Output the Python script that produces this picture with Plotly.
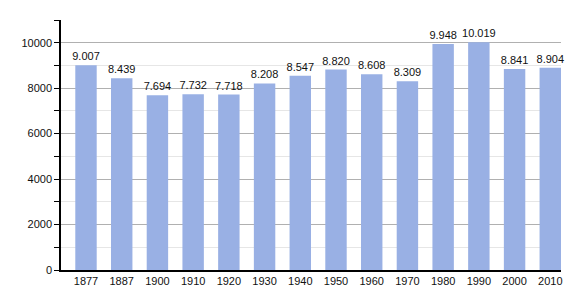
import plotly.graph_objects as go

years = ["1877", "1887", "1900", "1910", "1920", "1930", "1940", "1950", "1960", "1970", "1980", "1990", "2000", "2010"]
population = [9007, 8439, 7694, 7732, 7718, 8208, 8547, 8820, 8608, 8309, 9948, 10019, 8841, 8904]

fig = go.Figure(go.Bar(
    x=list(range(len(years))),
    y=population,
    width=0.6,
    marker=dict(color="#99b0e4", line=dict(width=0)),
    texttemplate="%{y:,d}",
    textposition="outside",
    constraintext="none",
    textfont=dict(size=11, color="#111"),
    cliponaxis=False,
))

fig.update_layout(
    width=580, height=300,
    margin=dict(l=61, r=19, t=20, b=30),
    paper_bgcolor="white", plot_bgcolor="white",
    separators=",.",
    font=dict(family="Liberation Sans, Arial, sans-serif", size=11, color="#111"),
    showlegend=False,
    bargap=0.4,
)
fig.update_xaxes(
    range=[-0.7, 13.3],
    tickmode="array", tickvals=list(range(len(years))), ticktext=years,
    showline=True, linecolor="black", linewidth=1.5,
    showgrid=False, ticks="", zeroline=False,
)
fig.update_yaxes(
    range=[0, 11000],
    tickmode="array", tickvals=[0, 2000, 4000, 6000, 8000, 10000],
    tickformat="d",
    showline=True, linecolor="black", linewidth=1.5,
    ticks="outside", ticklen=5, tickcolor="black",
    showgrid=True, gridcolor="#b0b0b0", gridwidth=1,
    zeroline=False,
    minor=dict(tickvals=[1000, 3000, 5000, 7000, 9000, 11000], ticks="outside", ticklen=5,
               tickcolor="black", showgrid=True, gridcolor="#e6e6e6"),
)

fig.write_html("out.html")
